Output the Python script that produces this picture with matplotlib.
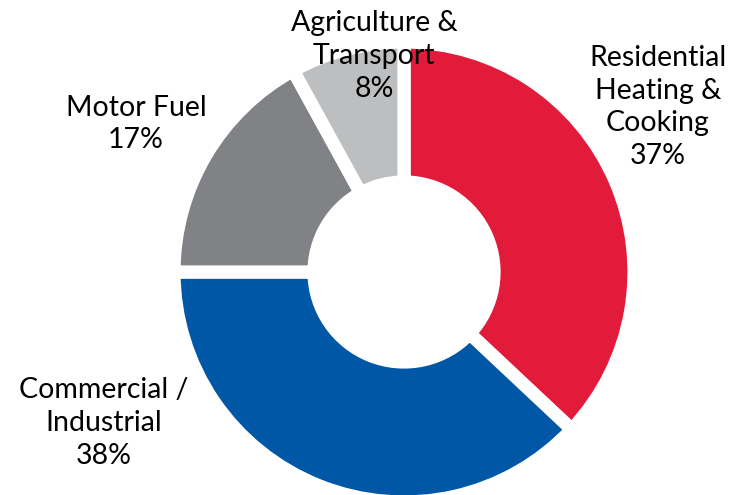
import matplotlib.pyplot as plt

plt.rcParams['font.family'] = ['Lato', 'DejaVu Sans']

labels = ['Residential\nHeating &\nCooking', 'Commercial /\nIndustrial', 'Motor Fuel', 'Agriculture &\nTransport']
shares = [37, 38, 17, 8]
colors = ['#E31B3A', '#0057A5', '#808285', '#BCBEC0']
# label centres in pixel coords (from top-left)
label_pos = [(658, 107), (104, 423), (136, 124), (374, 56)]

W, H = 733, 495
fig = plt.figure(figsize=(W / 100, H / 100), dpi=100)
ax = fig.add_axes([0, 0, 1, 1])

cx, cy = 404, H - 272
R = 230
ax.pie(shares, colors=colors, startangle=90, counterclock=False,
       center=(cx, cy), radius=R, frame=True,
       wedgeprops=dict(width=R - 90, edgecolor='white', linewidth=9.5))
ax.set_xlim(0, W)
ax.set_ylim(0, H)
ax.set_aspect('equal')
ax.axis('off')

for lab, val, (x, y) in zip(labels, shares, label_pos):
    ax.text(x, H - y, f'{lab}\n{val}%', ha='center', va='center',
            fontsize=20.5, linespacing=1.32, color='black')

fig.savefig('out.png', dpi=100)
